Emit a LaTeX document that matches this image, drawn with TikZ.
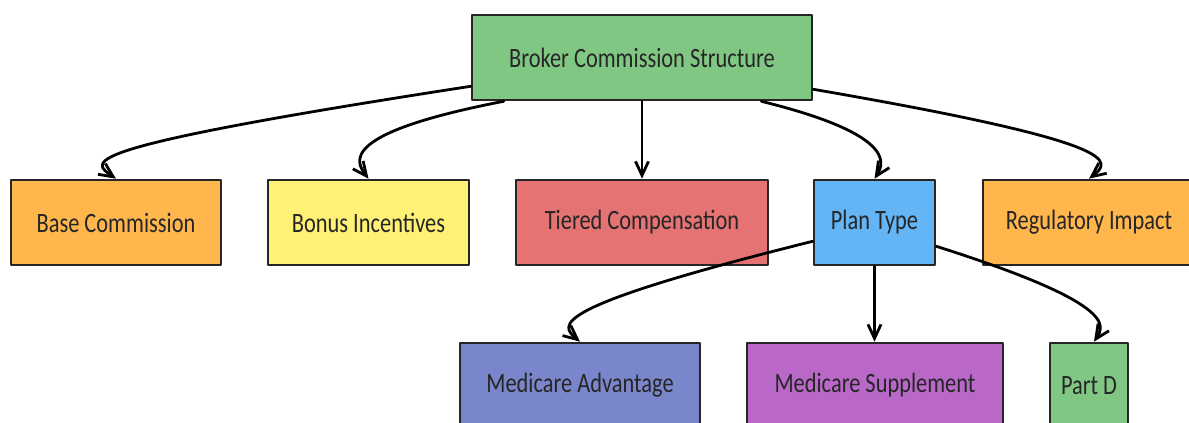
\documentclass[tikz,border=0pt]{standalone}
\usepackage{fontspec}
\usepackage{tikz}
\usetikzlibrary{arrows.meta}
\newfontfamily\handfont{Carlito}[FakeStretch=0.8]
\definecolor{comgreen}{HTML}{81C784}
\definecolor{comorange}{HTML}{FFB74D}
\definecolor{comyellow}{HTML}{FFF176}
\definecolor{comred}{HTML}{E57373}
\definecolor{comblue}{HTML}{64B5F6}
\definecolor{comindigo}{HTML}{7986CB}
\definecolor{compurple}{HTML}{BA68C8}
\tikzset{
  combase/.style={line cap=round, line join=round},
  combox/.style={draw=black!85, line width=2.6pt, minimum height=85pt, inner sep=0pt,
    text=black!85, font=\handfont\fontsize{28pt}{32pt}\selectfont},
  comlink/.style={draw=black, line width=2.8pt, -{Straight Barb[length=14pt,width=13pt]}}
}

\begin{document}
\begin{tikzpicture}[combase,x=1pt,y=1pt]
\path[use as bounding box,clip] (0,0) rectangle (1189,423);
\fill[white] (0,0) rectangle (1189,423);
% top level
\node[combox,fill=comgreen,minimum width=340pt] (root) at (642,365.5) {Broker Commission Structure};
% second row
\node[combox,fill=comorange,minimum width=210pt] (base) at (116,200.5) {Base Commission};
\node[combox,fill=comyellow,minimum width=201pt] (bonus) at (368.5,200.5) {Bonus Incentives};
\node[combox,fill=comred,minimum width=252pt] (tiered) at (642,200.5) {Tiered Compensation};
\node[combox,fill=comblue,minimum width=121pt] (plan) at (874.5,200.5) {Plan Type};
\node[combox,fill=comorange,minimum width=212pt] (reg) at (1089,200.5) {Regulatory Impact};
% plan types
\node[combox,fill=comindigo,minimum width=240pt] (medadv) at (580,37.5) {Medicare Advantage};
\node[combox,fill=compurple,minimum width=256pt] (medsup) at (875,37.5) {Medicare Supplement};
\node[combox,fill=comgreen,minimum width=78pt] (partd) at (1089,37.5) {Part D};
% links
\draw[comlink] ([yshift=15pt]root.south west) .. controls (70,275) and (90,262) .. (base.north);
\draw[comlink] ([xshift=33pt]root.south west) .. controls (340,290) and (355,262) .. (bonus.north);
\draw[comlink] (root.south) -- (tiered.north);
\draw[comlink] ([xshift=-52pt]root.south east) .. controls (890,290) and (886,262) .. (plan.north);
\draw[comlink] ([yshift=12pt]root.south east) .. controls (1125,280) and (1112,262) .. (reg.north);
\draw[comlink] ([yshift=25pt]plan.south west) .. controls (545,115) and (560,98) .. (medadv.north);
\draw[comlink] (plan.south) -- (plan.south |- medsup.north);
\draw[comlink] ([yshift=20pt]plan.south east) .. controls (1115,120) and (1105,98) .. ([xshift=5pt]partd.north);
\end{tikzpicture}
\end{document}
